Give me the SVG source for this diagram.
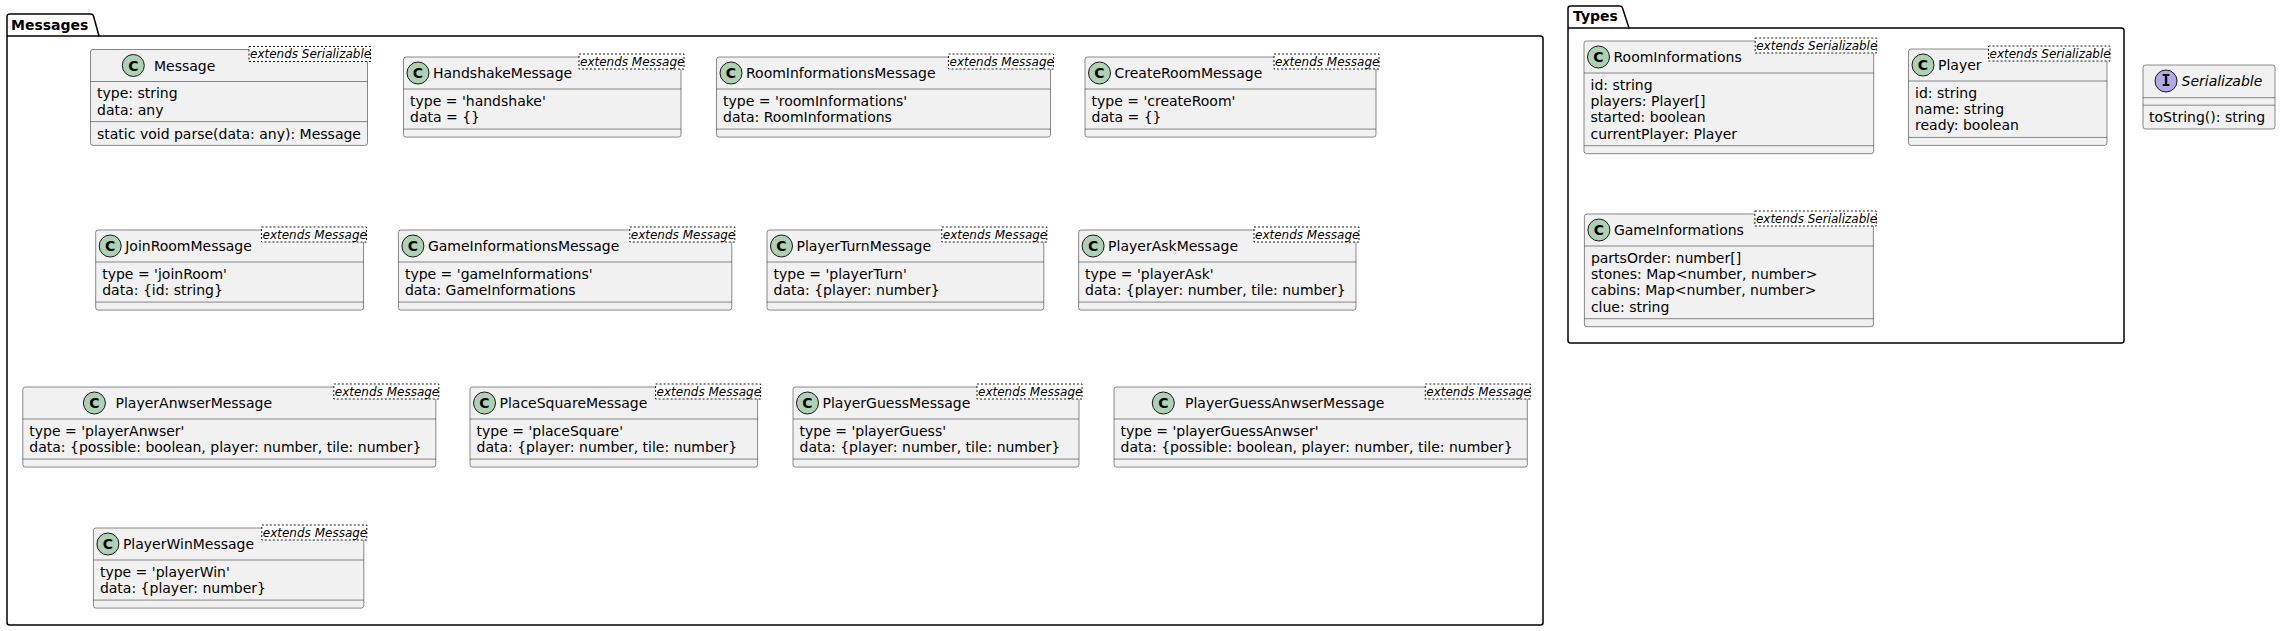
<svg xmlns="http://www.w3.org/2000/svg" width="2281" height="631" viewBox="0 0 2281 631">
<style>
.pkg{fill:none;stroke:#000000;stroke-width:1.5}
.pt{font-family:"DejaVu Sans",sans-serif;font-size:14px;font-weight:bold;fill:#000000}
.box{fill:#F1F1F1;stroke:#181818;stroke-width:0.5}
.ln{stroke:#181818;stroke-width:0.5}
.cc{fill:#ADD1B2;stroke:#181818;stroke-width:1}
.ci{fill:#B4A7E5;stroke:#181818;stroke-width:1}
.cl{font-family:"DejaVu Sans",sans-serif;font-size:14px;font-weight:bold;fill:#000000;text-anchor:middle}
.il{font-family:"DejaVu Sans Mono",monospace;font-size:15px;font-weight:bold;fill:#000000;text-anchor:middle}
.t{font-family:"DejaVu Sans",sans-serif;font-size:14px;fill:#000000}
.it{font-family:"DejaVu Sans",sans-serif;font-size:14px;font-style:italic;fill:#000000}
.sb{fill:#FFFFFF;stroke:#181818;stroke-width:1;stroke-dasharray:2,2}
.st{font-family:"DejaVu Sans",sans-serif;font-size:12px;font-style:italic;fill:#000000}
</style>

<g id="pkg-messages">
<path class="pkg" d="M9.5,14 L91,14 A2.5,2.5 0 0 1 93.5,16 L99,36 L1540.5,36 A2.5,2.5 0 0 1 1543,38.5 L1543,622.5 A2.5,2.5 0 0 1 1540.5,625 L9.5,625 A2.5,2.5 0 0 1 7,622.5 L7,16.5 A2.5,2.5 0 0 1 9.5,14 Z"/>
<line class="pkg" x1="7" y1="36" x2="99" y2="36"/>
<text class="pt" x="11" y="29.5">Messages</text>
</g>

<g id="pkg-types">
<path class="pkg" d="M1570.5,6 L1620,6 A2.5,2.5 0 0 1 1622.5,8 L1629,28 L2121.5,28 A2.5,2.5 0 0 1 2124,30.5 L2124,340.5 A2.5,2.5 0 0 1 2121.5,343 L1570.5,343 A2.5,2.5 0 0 1 1568,340.5 L1568,8.5 A2.5,2.5 0 0 1 1570.5,6 Z"/>
<line class="pkg" x1="1568" y1="28" x2="1629" y2="28"/>
<text class="pt" x="1573" y="21">Types</text>
</g>

<g id="Message">
<rect class="box" x="90.5" y="49.5" width="277" height="95.9" rx="2.5"/>
<ellipse class="cc" cx="133.3" cy="65.5" rx="11" ry="11"/><text class="cl" x="133.3" y="70.5">C</text>
<text class="t" x="154" y="70.5">Message</text>
<rect class="sb" x="249" y="46.5" width="121.5" height="15"/><text class="st" x="250" y="58">extends Serializable</text>
<line class="ln" x1="90.5" y1="81.5" x2="367.5" y2="81.5"/>
<text class="t" x="97" y="98.3">type: string</text>
<text class="t" x="97" y="114.6">data: any</text>
<line class="ln" x1="90.5" y1="121.6" x2="367.5" y2="121.6"/>
<text class="t" x="97" y="138.9">static void parse(data: any): Message</text>
</g>

<g id="HandshakeMessage">
<rect class="box" x="403.5" y="57" width="277.5" height="80.1" rx="2.5"/>
<ellipse class="cc" cx="418" cy="73" rx="11" ry="11"/><text class="cl" x="418" y="78">C</text>
<text class="t" x="433" y="78">HandshakeMessage</text>
<rect class="sb" x="579" y="54" width="105" height="15"/><text class="st" x="580" y="65.5">extends Message</text>
<line class="ln" x1="403.5" y1="89" x2="681" y2="89"/>
<text class="t" x="410" y="105.8">type = 'handshake'</text>
<text class="t" x="410" y="122.1">data = {}</text>
<line class="ln" x1="403.5" y1="129.1" x2="681" y2="129.1"/>
</g>

<g id="RoomInformationsMessage">
<rect class="box" x="716.5" y="57" width="334" height="80.1" rx="2.5"/>
<ellipse class="cc" cx="731" cy="73" rx="11" ry="11"/><text class="cl" x="731" y="78">C</text>
<text class="t" x="746" y="78">RoomInformationsMessage</text>
<rect class="sb" x="948.5" y="54" width="105" height="15"/><text class="st" x="949.5" y="65.5">extends Message</text>
<line class="ln" x1="716.5" y1="89" x2="1050.5" y2="89"/>
<text class="t" x="723" y="105.8">type = 'roomInformations'</text>
<text class="t" x="723" y="122.1">data: RoomInformations</text>
<line class="ln" x1="716.5" y1="129.1" x2="1050.5" y2="129.1"/>
</g>

<g id="CreateRoomMessage">
<rect class="box" x="1085" y="57" width="291" height="80.1" rx="2.5"/>
<ellipse class="cc" cx="1099.5" cy="73" rx="11" ry="11"/><text class="cl" x="1099.5" y="78">C</text>
<text class="t" x="1114.5" y="78">CreateRoomMessage</text>
<rect class="sb" x="1274" y="54" width="105" height="15"/><text class="st" x="1275" y="65.5">extends Message</text>
<line class="ln" x1="1085" y1="89" x2="1376" y2="89"/>
<text class="t" x="1091.5" y="105.8">type = 'createRoom'</text>
<text class="t" x="1091.5" y="122.1">data = {}</text>
<line class="ln" x1="1085" y1="129.1" x2="1376" y2="129.1"/>
</g>

<g id="JoinRoomMessage">
<rect class="box" x="95.7" y="230" width="267.8" height="80.1" rx="2.5"/>
<ellipse class="cc" cx="110.2" cy="246" rx="11" ry="11"/><text class="cl" x="110.2" y="251">C</text>
<text class="t" x="125.2" y="251">JoinRoomMessage</text>
<rect class="sb" x="261.5" y="227" width="105" height="15"/><text class="st" x="262.5" y="238.5">extends Message</text>
<line class="ln" x1="95.7" y1="262" x2="363.5" y2="262"/>
<text class="t" x="102.2" y="278.8">type = 'joinRoom'</text>
<text class="t" x="102.2" y="295.1">data: {id: string}</text>
<line class="ln" x1="95.7" y1="302.1" x2="363.5" y2="302.1"/>
</g>

<g id="GameInformationsMessage">
<rect class="box" x="398.4" y="230" width="333.4" height="80.1" rx="2.5"/>
<ellipse class="cc" cx="412.9" cy="246" rx="11" ry="11"/><text class="cl" x="412.9" y="251">C</text>
<text class="t" x="427.9" y="251">GameInformationsMessage</text>
<rect class="sb" x="629.8" y="227" width="105" height="15"/><text class="st" x="630.8" y="238.5">extends Message</text>
<line class="ln" x1="398.4" y1="262" x2="731.8" y2="262"/>
<text class="t" x="404.9" y="278.8">type = 'gameInformations'</text>
<text class="t" x="404.9" y="295.1">data: GameInformations</text>
<line class="ln" x1="398.4" y1="302.1" x2="731.8" y2="302.1"/>
</g>

<g id="PlayerTurnMessage">
<rect class="box" x="767" y="230" width="276.8" height="80.1" rx="2.5"/>
<ellipse class="cc" cx="781.5" cy="246" rx="11" ry="11"/><text class="cl" x="781.5" y="251">C</text>
<text class="t" x="796.5" y="251">PlayerTurnMessage</text>
<rect class="sb" x="941.8" y="227" width="105" height="15"/><text class="st" x="942.8" y="238.5">extends Message</text>
<line class="ln" x1="767" y1="262" x2="1043.8" y2="262"/>
<text class="t" x="773.5" y="278.8">type = 'playerTurn'</text>
<text class="t" x="773.5" y="295.1">data: {player: number}</text>
<line class="ln" x1="767" y1="302.1" x2="1043.8" y2="302.1"/>
</g>

<g id="PlayerAskMessage">
<rect class="box" x="1078.6" y="230" width="277.4" height="80.1" rx="2.5"/>
<ellipse class="cc" cx="1093.1" cy="246" rx="11" ry="11"/><text class="cl" x="1093.1" y="251">C</text>
<text class="t" x="1108.1" y="251">PlayerAskMessage</text>
<rect class="sb" x="1254" y="227" width="105" height="15"/><text class="st" x="1255" y="238.5">extends Message</text>
<line class="ln" x1="1078.6" y1="262" x2="1356" y2="262"/>
<text class="t" x="1085.1" y="278.8">type = 'playerAsk'</text>
<text class="t" x="1085.1" y="295.1">data: {player: number, tile: number}</text>
<line class="ln" x1="1078.6" y1="302.1" x2="1356" y2="302.1"/>
</g>

<g id="PlayerAnwserMessage">
<rect class="box" x="22.8" y="387" width="413" height="80.1" rx="2.5"/>
<ellipse class="cc" cx="94.4" cy="403" rx="11" ry="11"/><text class="cl" x="94.4" y="408">C</text>
<text class="t" x="115.5" y="408">PlayerAnwserMessage</text>
<rect class="sb" x="333.8" y="384" width="105" height="15"/><text class="st" x="334.8" y="395.5">extends Message</text>
<line class="ln" x1="22.8" y1="419" x2="435.8" y2="419"/>
<text class="t" x="29.3" y="435.8">type = 'playerAnwser'</text>
<text class="t" x="29.3" y="452.1">data: {possible: boolean, player: number, tile: number}</text>
<line class="ln" x1="22.8" y1="459.1" x2="435.8" y2="459.1"/>
</g>

<g id="PlaceSquareMessage">
<rect class="box" x="470" y="387" width="287.6" height="80.1" rx="2.5"/>
<ellipse class="cc" cx="484.5" cy="403" rx="11" ry="11"/><text class="cl" x="484.5" y="408">C</text>
<text class="t" x="499.5" y="408">PlaceSquareMessage</text>
<rect class="sb" x="655.6" y="384" width="105" height="15"/><text class="st" x="656.6" y="395.5">extends Message</text>
<line class="ln" x1="470" y1="419" x2="757.6" y2="419"/>
<text class="t" x="476.5" y="435.8">type = 'placeSquare'</text>
<text class="t" x="476.5" y="452.1">data: {player: number, tile: number}</text>
<line class="ln" x1="470" y1="459.1" x2="757.6" y2="459.1"/>
</g>

<g id="PlayerGuessMessage">
<rect class="box" x="793" y="387" width="286" height="80.1" rx="2.5"/>
<ellipse class="cc" cx="807.5" cy="403" rx="11" ry="11"/><text class="cl" x="807.5" y="408">C</text>
<text class="t" x="822.5" y="408">PlayerGuessMessage</text>
<rect class="sb" x="977" y="384" width="105" height="15"/><text class="st" x="978" y="395.5">extends Message</text>
<line class="ln" x1="793" y1="419" x2="1079" y2="419"/>
<text class="t" x="799.5" y="435.8">type = 'playerGuess'</text>
<text class="t" x="799.5" y="452.1">data: {player: number, tile: number}</text>
<line class="ln" x1="793" y1="459.1" x2="1079" y2="459.1"/>
</g>

<g id="PlayerGuessAnwserMessage">
<rect class="box" x="1114" y="387" width="413.3" height="80.1" rx="2.5"/>
<ellipse class="cc" cx="1163.3" cy="403" rx="11" ry="11"/><text class="cl" x="1163.3" y="408">C</text>
<text class="t" x="1185" y="408">PlayerGuessAnwserMessage</text>
<rect class="sb" x="1425.3" y="384" width="105" height="15"/><text class="st" x="1426.3" y="395.5">extends Message</text>
<line class="ln" x1="1114" y1="419" x2="1527.3" y2="419"/>
<text class="t" x="1120.5" y="435.8">type = 'playerGuessAnwser'</text>
<text class="t" x="1120.5" y="452.1">data: {possible: boolean, player: number, tile: number}</text>
<line class="ln" x1="1114" y1="459.1" x2="1527.3" y2="459.1"/>
</g>

<g id="PlayerWinMessage">
<rect class="box" x="93.4" y="528" width="270.4" height="80.1" rx="2.5"/>
<ellipse class="cc" cx="107.9" cy="544" rx="11" ry="11"/><text class="cl" x="107.9" y="549">C</text>
<text class="t" x="122.9" y="549">PlayerWinMessage</text>
<rect class="sb" x="261.8" y="525" width="105" height="15"/><text class="st" x="262.8" y="536.5">extends Message</text>
<line class="ln" x1="93.4" y1="560" x2="363.8" y2="560"/>
<text class="t" x="99.9" y="576.8">type = 'playerWin'</text>
<text class="t" x="99.9" y="593.1">data: {player: number}</text>
<line class="ln" x1="93.4" y1="600.1" x2="363.8" y2="600.1"/>
</g>

<g id="RoomInformations">
<rect class="box" x="1584" y="41" width="289.7" height="112.7" rx="2.5"/>
<ellipse class="cc" cx="1598.5" cy="57" rx="11" ry="11"/><text class="cl" x="1598.5" y="62">C</text>
<text class="t" x="1613.5" y="62">RoomInformations</text>
<rect class="sb" x="1755.2" y="38" width="121.5" height="15"/><text class="st" x="1756.2" y="49.5">extends Serializable</text>
<line class="ln" x1="1584" y1="73" x2="1873.7" y2="73"/>
<text class="t" x="1590.5" y="89.8">id: string</text>
<text class="t" x="1590.5" y="106.1">players: Player[]</text>
<text class="t" x="1590.5" y="122.4">started: boolean</text>
<text class="t" x="1590.5" y="138.7">currentPlayer: Player</text>
<line class="ln" x1="1584" y1="145.7" x2="1873.7" y2="145.7"/>
</g>

<g id="Player">
<rect class="box" x="1908.5" y="49" width="198.5" height="96.4" rx="2.5"/>
<ellipse class="cc" cx="1923" cy="65" rx="11" ry="11"/><text class="cl" x="1923" y="70">C</text>
<text class="t" x="1938" y="70">Player</text>
<rect class="sb" x="1988.5" y="46" width="121.5" height="15"/><text class="st" x="1989.5" y="57.5">extends Serializable</text>
<line class="ln" x1="1908.5" y1="81" x2="2107" y2="81"/>
<text class="t" x="1915" y="97.8">id: string</text>
<text class="t" x="1915" y="114.1">name: string</text>
<text class="t" x="1915" y="130.4">ready: boolean</text>
<line class="ln" x1="1908.5" y1="137.4" x2="2107" y2="137.4"/>
</g>

<g id="GameInformations">
<rect class="box" x="1584.4" y="214" width="289" height="112.7" rx="2.5"/>
<ellipse class="cc" cx="1598.9" cy="230" rx="11" ry="11"/><text class="cl" x="1598.9" y="235">C</text>
<text class="t" x="1613.9" y="235">GameInformations</text>
<rect class="sb" x="1754.9" y="211" width="121.5" height="15"/><text class="st" x="1755.9" y="222.5">extends Serializable</text>
<line class="ln" x1="1584.4" y1="246" x2="1873.4" y2="246"/>
<text class="t" x="1590.9" y="262.8">partsOrder: number[]</text>
<text class="t" x="1590.9" y="279.1">stones: Map&lt;number, number&gt;</text>
<text class="t" x="1590.9" y="295.4">cabins: Map&lt;number, number&gt;</text>
<text class="t" x="1590.9" y="311.7">clue: string</text>
<line class="ln" x1="1584.4" y1="318.7" x2="1873.4" y2="318.7"/>
</g>

<g id="Serializable">
<rect class="box" x="2143" y="65" width="132" height="64" rx="2.5"/>
<ellipse class="ci" cx="2166" cy="81" rx="11" ry="11"/><text class="il" x="2166" y="86">I</text>
<text class="it" x="2181.5" y="86">Serializable</text>
<line class="ln" x1="2143" y1="97.7" x2="2275" y2="97.7"/>
<line class="ln" x1="2143" y1="105.2" x2="2275" y2="105.2"/>
<text class="t" x="2149" y="122.3">toString(): string</text>
</g>

<g id="connectors"></g>
</svg>
